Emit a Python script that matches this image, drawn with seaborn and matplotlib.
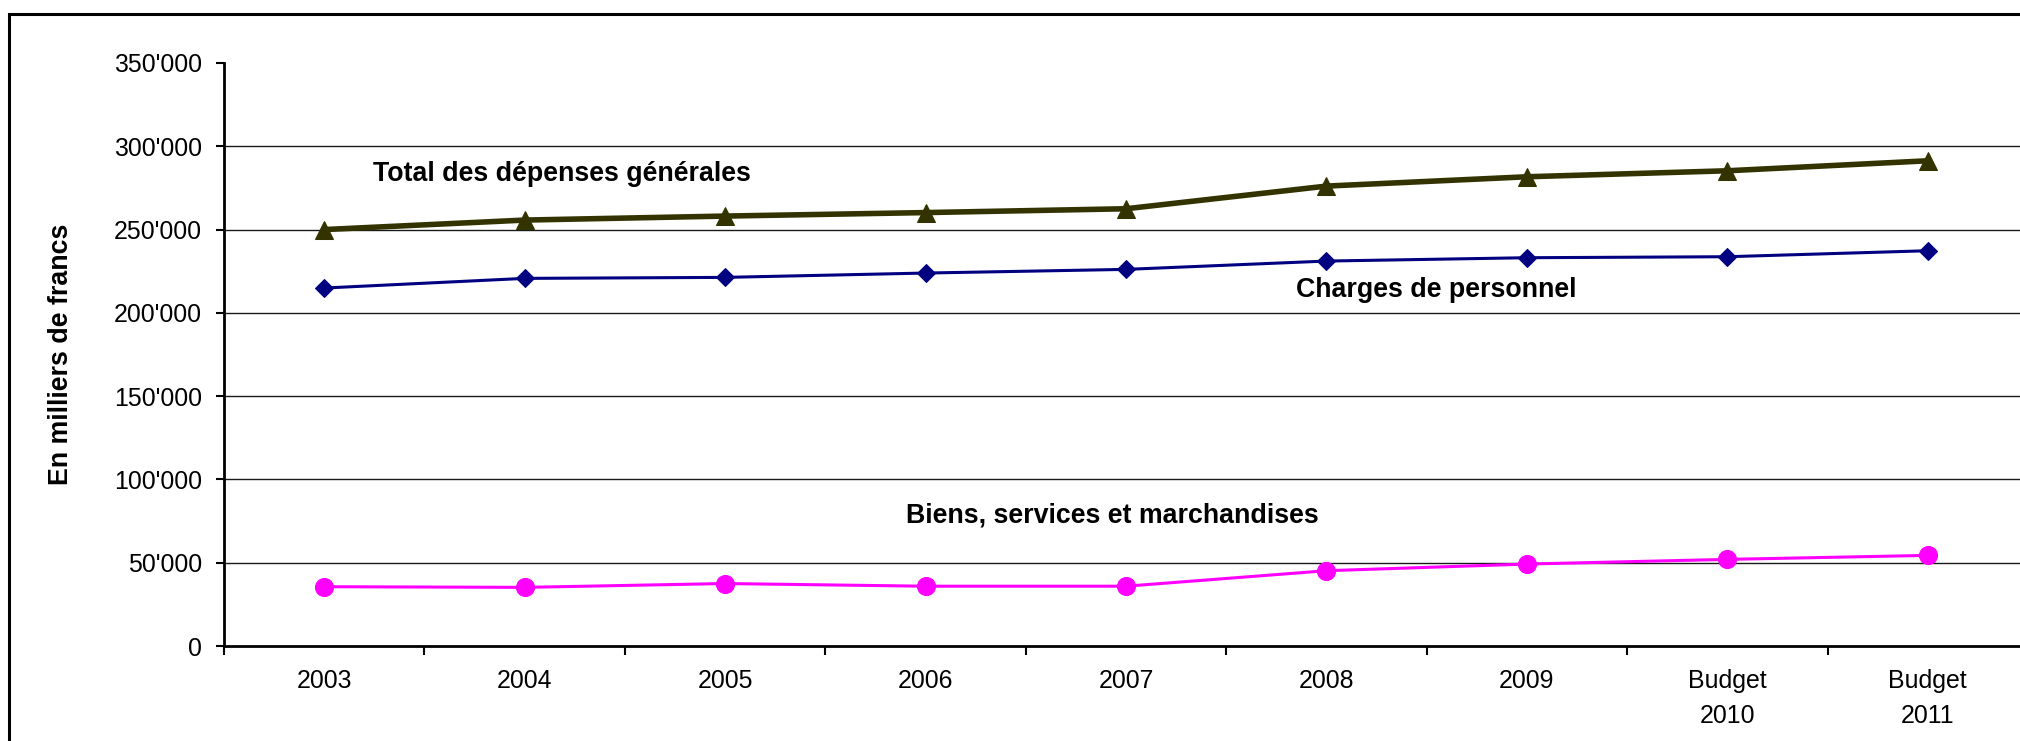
import matplotlib
matplotlib.use("Agg")
import matplotlib.pyplot as plt
from matplotlib.patches import Rectangle
from matplotlib.ticker import FuncFormatter, FixedLocator
import seaborn as sns
import pandas as pd

# Categories (years, last two are budget figures)
periods = ["2003", "2004", "2005", "2006", "2007", "2008", "2009",
           "Budget\n2010", "Budget\n2011"]

# Amounts in thousands of francs
total_depenses = [250000, 255700, 258100, 260200, 262500, 276100, 281700, 285300, 291300]
charges_personnel = [214900, 220700, 221300, 223900, 226100, 231100, 233100, 233700, 237300]
biens_services = [35600, 35200, 37500, 35900, 35900, 45200, 49200, 52000, 54400]

y_ticks = [0, 50000, 100000, 150000, 200000, 250000, 300000, 350000]

sns.set_style("white")
plt.rcParams["font.family"] = ["Liberation Sans", "DejaVu Sans"]
plt.rcParams.update({
    "text.color": "black",
    "axes.labelcolor": "black",
    "xtick.color": "black",
    "ytick.color": "black",
})

FS = 17.9      # tick labels
FS_B = 19.3    # bold labels
fig = plt.figure(figsize=(20.2, 7.41), dpi=100)
ax = fig.add_axes([224 / 2020, 1 - 646 / 741, 1804 / 2020, 583 / 741])

idx = list(range(len(periods)))
df = pd.DataFrame({
    "pos": idx,
    "total": total_depenses,
    "personnel": charges_personnel,
    "biens": biens_services,
})

# horizontal gridlines (no line at the top value)
for v in y_ticks[1:-1]:
    ax.axhline(v, color="#1a1a1a", lw=1.0, zorder=0)

sns.lineplot(data=df, x="pos", y="biens", ax=ax, color="#FF00FF", lw=2.2,
             marker="o", markersize=13, markeredgecolor="#FF00FF", zorder=3)
sns.lineplot(data=df, x="pos", y="personnel", ax=ax, color="#000080", lw=2.2,
             marker="D", markersize=9.5, markeredgecolor="#000080", zorder=3)
sns.lineplot(data=df, x="pos", y="total", ax=ax, color="#333300", lw=4.0,
             marker="^", markersize=13, markeredgecolor="#333300", zorder=4)

ax.set_xlim(-0.5, len(periods) - 0.5)
ax.set_ylim(0, 350000)

ax.set_xticks(idx)
ax.set_xticklabels(periods, fontsize=FS, linespacing=1.6)
ax.xaxis.set_minor_locator(FixedLocator([i - 0.5 for i in range(len(periods) + 1)]))
ax.tick_params(axis="x", which="major", length=0, pad=16.5)
ax.tick_params(axis="x", which="minor", length=6.5, width=1.5, color="black",
               direction="out", bottom=True)

ax.set_yticks(y_ticks)
ax.yaxis.set_major_formatter(FuncFormatter(lambda v, p: f"{int(v):,}".replace(",", "'")))
ax.tick_params(axis="y", length=5.8, width=1.5, color="black", direction="out",
               labelsize=FS, pad=10, left=True)

ax.set_xlabel("")
ax.set_ylabel("")
for s in ["top", "right"]:
    ax.spines[s].set_visible(False)
for s in ["left", "bottom"]:
    ax.spines[s].set_color("black")
    ax.spines[s].set_linewidth(2.0)

# series labels
ax.text(1.186, 278900, "Total des dépenses générales", ha="center", va="baseline",
        fontsize=FS_B, fontweight="bold")
ax.text(5.55, 209700, "Charges de personnel", ha="center", va="baseline",
        fontsize=FS_B, fontweight="bold")
ax.text(3.93, 74400, "Biens, services et marchandises", ha="center", va="baseline",
        fontsize=FS_B, fontweight="bold")

fig.text(61 / 2020, 1 - 354 / 741, "En milliers de francs", rotation=90,
         ha="center", va="center", fontsize=FS_B, fontweight="bold")

# outer frame of the chart area
fig.patches.append(Rectangle((8.5 / 2020, -0.5), 2.0, 0.5 + 1 - 13.5 / 741,
                             transform=fig.transFigure, fill=False,
                             edgecolor="black", lw=2.2))

fig.savefig("out.png", dpi=100)
